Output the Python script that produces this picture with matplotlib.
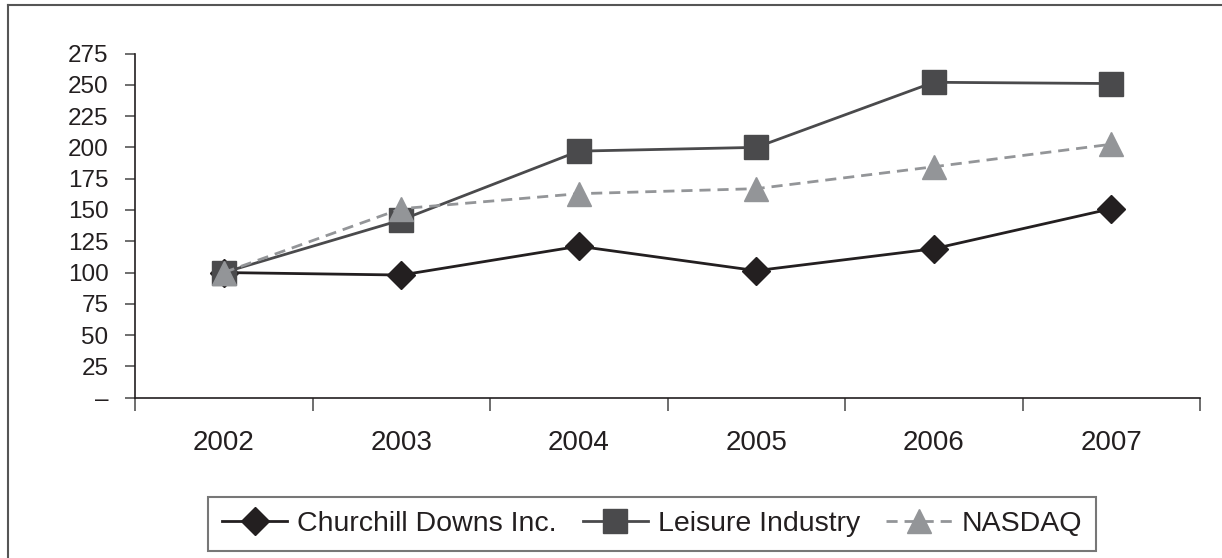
import matplotlib.pyplot as plt
from matplotlib.lines import Line2D
import numpy as np

plt.rcParams['font.family'] = ['Liberation Sans', 'DejaVu Sans']

# data
years = ['2002', '2003', '2004', '2005', '2006', '2007']
churchill = [100, 98, 121, 101.5, 119, 151]
leisure = [100, 142, 197, 200, 252, 251]
nasdaq = [100, 151, 163, 167, 184.5, 202.5]
yticks = [0, 25, 50, 75, 100, 125, 150, 175, 200, 225, 250, 275]
ytick_labels = ['–'] + [str(v) for v in yticks[1:]]

fig = plt.figure(figsize=(12.22, 5.58), dpi=100)
ax = fig.add_axes([135 / 1222, 1 - 397.7 / 558, 1065 / 1222, (397.7 - 53.5) / 558])

x = np.arange(len(years))
ax.plot(x, churchill, color='#231f20', lw=2.0, marker='D', ms=14,
        label='Churchill Downs Inc.')
ax.plot(x, leisure, color='#4a4a4c', lw=2.0, marker='s', ms=17,
        label='Leisure Industry')
ax.plot(x, nasdaq, color='#939598', lw=2.0, ls=(0, (4, 2.5)), marker='^', ms=17,
        label='NASDAQ')

ax.set_xlim(-0.5, len(years) - 0.5)
ax.set_ylim(0, 275)
ax.set_yticks(yticks)
ax.set_yticklabels(ytick_labels)

# category axis: ticks on boundaries, labels in the middle
ax.set_xticks(np.arange(len(years) + 1) - 0.5)
ax.set_xticklabels([])
ax.set_xticks(x, minor=True)
ax.set_xticklabels(years, minor=True)
ax.tick_params(axis='x', which='major', length=9, width=1.2, color='#555555', direction='out')
ax.tick_params(axis='x', which='minor', length=0, pad=23, labelsize=20, labelcolor='#231f20')
ax.tick_params(axis='y', length=7, width=1.2, color='#555555', pad=12, labelsize=17.5,
               labelcolor='#231f20')

for s in ['top', 'right']:
    ax.spines[s].set_visible(False)
for s in ['left', 'bottom']:
    ax.spines[s].set_color('#231f20')
    ax.spines[s].set_linewidth(1.2)

leg = fig.legend(loc='center', bbox_to_anchor=(652 / 1222, 1 - 524 / 558), ncol=3,
                 frameon=True, fancybox=False, handlelength=2.3, fontsize=20.5,
                 columnspacing=0.9, handletextpad=0.35, borderpad=0.5,
                 edgecolor='#555555')
leg.get_frame().set_linewidth(1.5)
for t in leg.get_texts():
    t.set_color('#231f20')

# outer frame (left and top edges)
fig.add_artist(Line2D([8 / 1222, 8 / 1222], [0, 1 - 5 / 558], color='#555555', lw=1.5))
fig.add_artist(Line2D([8 / 1222, 1], [1 - 5 / 558, 1 - 5 / 558], color='#555555', lw=1.5))

plt.savefig('out.png', dpi=100)
